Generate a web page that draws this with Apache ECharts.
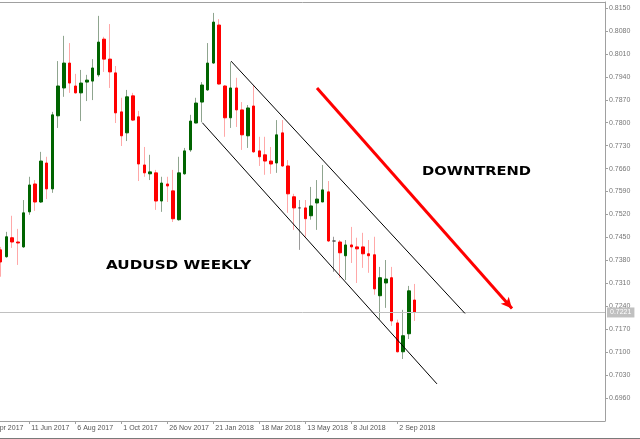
<!DOCTYPE html>
<html><head><meta charset="utf-8">
<script src="https://cdn.jsdelivr.net/npm/echarts@6/dist/echarts.min.js"></script>
<style>html,body{margin:0;padding:0;background:#fff;overflow:hidden}#c{width:640px;height:439px}</style>
</head><body><div id="c"></div>
<script>
// Weekly AUDUSD candles, week index 0 = 7 May 2017
const openP = [0.7412,0.7391,0.7449,0.7436,0.7421,0.7528,0.7613,0.7558,0.7677,0.7598,
0.7821,0.7906,0.7982,0.7912,0.7891,0.7924,0.7927,0.7946,0.8055,0.7994,
0.7952,0.7833,0.7769,0.7882,0.7818,0.7671,0.7644,0.7647,0.7561,0.7613,
0.7592,0.7504,0.7644,0.7717,0.7799,0.7863,0.7900,0.7982,0.8098,0.7912,
0.7815,0.7906,0.7839,0.7760,0.7851,0.7714,0.7702,0.7683,0.7677,0.7769,
0.7668,0.7574,0.7540,0.7540,0.7516,0.7555,0.7558,0.7589,0.7439,0.7436,
0.7394,0.7427,0.7421,0.7421,0.7400,0.7397,0.7272,0.7311,0.7327,0.7189,
0.7101,0.7156,0.7259];
const closeP = [0.7375,0.7452,0.7436,0.7433,0.7525,0.7610,0.7558,0.7683,0.7598,0.7824,
0.7912,0.7982,0.7921,0.7891,0.7921,0.7930,0.7967,0.8046,0.7994,0.7955,
0.7830,0.7760,0.7879,0.7808,0.7674,0.7647,0.7650,0.7561,0.7616,0.7607,
0.7507,0.7647,0.7714,0.7805,0.7860,0.7915,0.7982,0.8107,0.7918,0.7815,
0.7906,0.7839,0.7763,0.7845,0.7711,0.7696,0.7683,0.7674,0.7763,0.7668,
0.7583,0.7540,0.7540,0.7507,0.7546,0.7567,0.7595,0.7439,0.7439,0.7403,
0.7427,0.7421,0.7415,0.7400,0.7394,0.7293,0.7327,0.7323,0.7195,0.7101,
0.7150,0.7287,0.7221];
const lowP = [0.7330,0.7388,0.7418,0.7366,0.7418,0.7519,0.7531,0.7555,0.7567,0.7586,
0.7784,0.7879,0.7891,0.7889,0.7805,0.7866,0.7869,0.7940,0.7955,0.7906,
0.7799,0.7729,0.7744,0.7805,0.7622,0.7635,0.7625,0.7534,0.7528,0.7558,
0.7497,0.7501,0.7641,0.7711,0.7798,0.7802,0.7897,0.7980,0.7916,0.7757,
0.7784,0.7787,0.7717,0.7723,0.7708,0.7668,0.7641,0.7644,0.7647,0.7665,
0.7525,0.7473,0.7412,0.7452,0.7504,0.7473,0.7558,0.7436,0.7345,0.7327,
0.7320,0.7372,0.7311,0.7357,0.7342,0.7275,0.7199,0.7235,0.7180,0.7099,
0.7079,0.7140,0.7195];
const highP = [0.7421,0.7467,0.7516,0.7476,0.7564,0.7635,0.7625,0.7711,0.7696,0.7833,
0.7988,0.8065,0.8043,0.7949,0.7961,0.7946,0.7994,0.8126,0.8062,0.8101,
0.7973,0.7876,0.7900,0.7891,0.7836,0.7726,0.7702,0.7656,0.7635,0.7635,
0.7656,0.7696,0.7723,0.7824,0.7876,0.7924,0.8043,0.8135,0.8116,0.7915,
0.7985,0.7937,0.7863,0.7854,0.7915,0.7757,0.7757,0.7726,0.7808,0.7808,
0.7686,0.7583,0.7564,0.7564,0.7604,0.7625,0.7671,0.7622,0.7452,0.7442,
0.7442,0.7482,0.7449,0.7464,0.7442,0.7452,0.7360,0.7381,0.7360,0.7199,
0.7229,0.7302,0.7308];

const xTickWeeks = [5,13,21,29,37,45,53,61,69];
const xTickLabels = ['11 Jun 2017','6 Aug 2017','1 Oct 2017','26 Nov 2017','21 Jan 2018','18 Mar 2018','13 May 2018','8 Jul 2018','2 Sep 2018'];
const cutLabelWeek = -3, cutLabelText = '16 Apr 2017';
const yTicks = [0.6960,0.7030,0.7100,0.7170,0.7240,0.7310,0.7380,0.7450,0.7520,0.7590,0.7660,0.7730,0.7800,0.7870,0.7940,0.8010,0.8080,0.8150];
const lastPrice = 0.7221;
const upperChannel = [[40.08,0.7988],[80.77,0.7218]];
const lowerChannel = [[35.09,0.7800],[75.90,0.7003]];
const trendArrow = [[55.03,0.7906],[88.95,0.7233]];

const X_MIN = -0.0957, X_MAX = 105.1217, Y_MIN = 0.68898, Y_MAX = 0.81683;
const FONT = 'Liberation Sans';
const wickData = openP.map((o,i)=>[i,o,closeP[i],lowP[i],highP[i]]);
const bodyData = openP.map((o,i)=>[i,o,closeP[i],Math.min(o,closeP[i]),Math.max(o,closeP[i])]);

const chart = echarts.init(document.getElementById('c'), null, {renderer:'canvas'});
chart.setOption({
  animation:false,
  backgroundColor:'#fff',
  grid:{left:0,right:35,top:2,bottom:18,show:false},
  xAxis:{type:'value',min:X_MIN,max:X_MAX,
    axisLine:{show:true,onZero:false,lineStyle:{color:'#a0a0a0'}},
    splitLine:{show:false},
    axisTick:{show:true,length:3,lineStyle:{color:'#a0a0a0'},customValues:xTickWeeks},
    axisLabel:{show:true,customValues:xTickWeeks,align:'left',margin:4,fontSize:7,fontFamily:FONT,color:'#555',
      padding:[0,0,0,2],
      formatter:v=>{const j=xTickWeeks.indexOf(Math.round(v));return j>=0?xTickLabels[j]:'';}}
  },
  yAxis:{type:'value',position:'right',min:Y_MIN,max:Y_MAX,scale:true,
    axisLine:{show:true,onZero:false,lineStyle:{color:'#a0a0a0'}},
    splitLine:{show:false},
    axisTick:{show:true,length:3,lineStyle:{color:'#a0a0a0'},customValues:yTicks},
    axisLabel:{show:true,customValues:yTicks,margin:4,fontSize:7,fontFamily:FONT,color:'#777',
      formatter:v=>v.toFixed(4)}
  },
  series:[
    {type:'candlestick',name:'wick',data:wickData,encode:{x:0,y:[1,2,3,4]},barWidth:1,
      itemStyle:{color:'#8fa58f',color0:'#ffb0b0',borderColor:'#8fa58f',borderColor0:'#ffa8a8',borderColorDoji:'#9a9a9a',borderWidth:1},
      silent:true},
    {type:'candlestick',name:'body',data:bodyData,encode:{x:0,y:[1,2,3,4]},barWidth:3,
      itemStyle:{color:'#006400',color0:'#ff0000',borderColor:'#006400',borderColor0:'#ff0000',borderColorDoji:'#505050',borderWidth:1},
      silent:true,
      markLine:{silent:true,symbol:['none','none'],animation:false,label:{show:false},
        data:[
          [{coord:[X_MIN,lastPrice],lineStyle:{color:'#c0c0c0',width:1,type:'solid'},
            label:{show:true,position:'end',distance:2,formatter:lastPrice.toFixed(4),backgroundColor:'#c0c0c0',color:'#fff',fontSize:7,fontFamily:FONT,padding:[2,3,1,3]}},
           {coord:[X_MAX,lastPrice]}],
          [{coord:upperChannel[0],lineStyle:{color:'#000',width:1,type:'solid'}},{coord:upperChannel[1]}],
          [{coord:lowerChannel[0],lineStyle:{color:'#000',width:1,type:'solid'}},{coord:lowerChannel[1]}],
          [{coord:trendArrow[0],symbol:'none',lineStyle:{color:'#ff0000',width:3,type:'solid'}},{coord:trendArrow[1],symbol:'arrow',symbolSize:[8,11]}]
        ]}
    }
  ],
  graphic:[
    {type:'text',id:'t1',x:106,y:266,scaleX:1.17,style:{text:'AUDUSD WEEKLY',fill:'#000',font:'bold 13px "DejaVu Sans"',textVerticalAlign:'middle'}},
    {type:'text',id:'t2',x:422,y:172,scaleX:1.13,style:{text:'DOWNTREND',fill:'#000',font:'bold 13px "DejaVu Sans"',textVerticalAlign:'middle'}},
    {type:'line',id:'top',shape:{x1:0,y1:2.5,x2:605,y2:2.5},style:{stroke:'#a0a0a0',lineWidth:1}},
    {type:'line',id:'b1',shape:{x1:0,y1:438.5,x2:640,y2:438.5},style:{stroke:'#7a7a7a',lineWidth:1}}
  ]
});
const px = chart.convertToPixel({xAxisIndex:0}, cutLabelWeek);
const py = chart.convertToPixel({yAxisIndex:0}, Y_MIN);
chart.setOption({graphic:[
  {type:'text',id:'cut',x:px+2,y:py+4,style:{text:cutLabelText,fill:'#555',font:'7px "Liberation Sans"',textVerticalAlign:'top'}}
]});
</script>
</body></html>
